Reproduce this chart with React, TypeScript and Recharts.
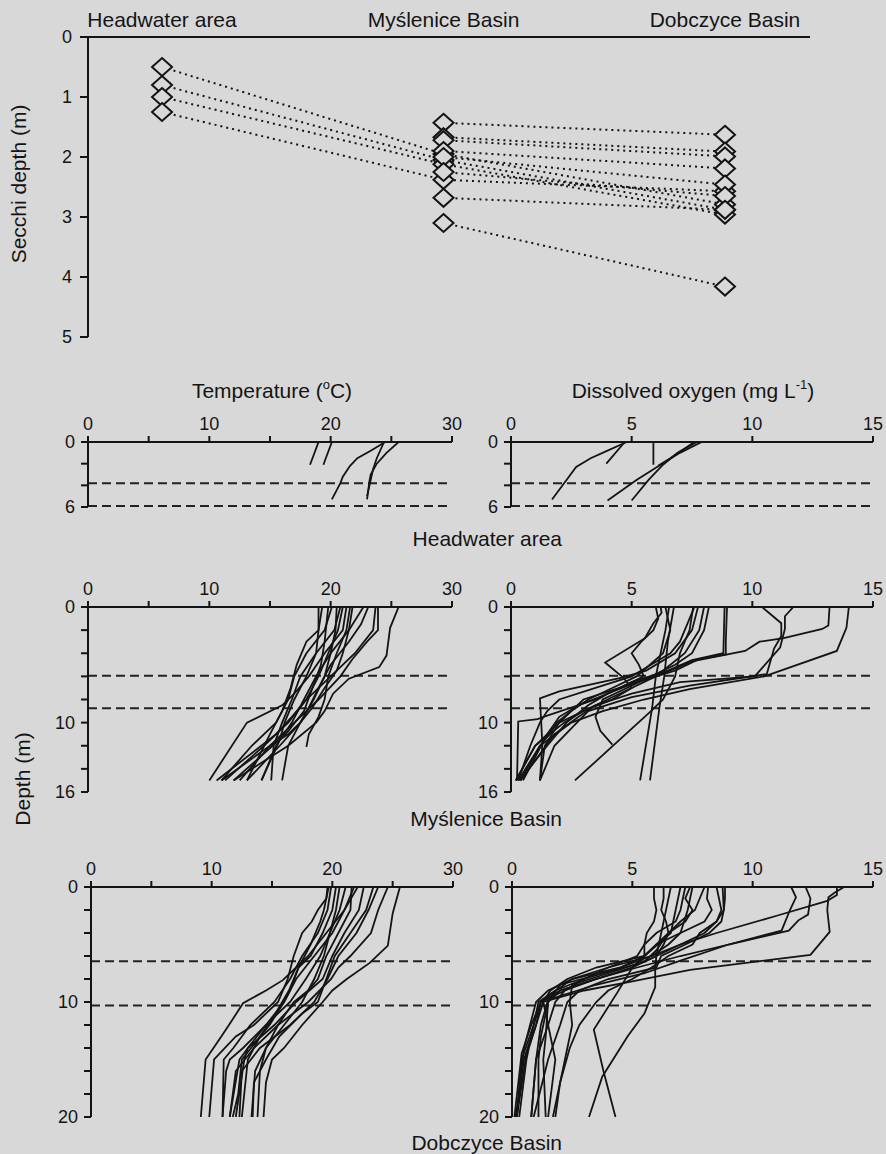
import React from 'react';
import { ScatterChart, Scatter, XAxis, YAxis, ReferenceLine } from 'recharts';

const FONT = '"Liberation Sans", Arial, Helvetica, sans-serif';
const INK = '#141414';
const BG = '#d8d8d8';

// ---------- Secchi depth (m) per sampling trip ----------
const secchiSites = ['Headwater area', 'Myślenice Basin', 'Dobczyce Basin'];
const secchiHeadwater = [0.5, 0.8, 1.0, 1.25, null, null, null, null, null, null, null, null];
const secchiMyslenice = [1.95, 2.05, 2.12, 2.38, 1.43, 1.67, 1.72, 1.9, 2.0, 2.25, 2.68, 3.1];
const secchiDobczyce = [2.79, 2.88, 2.96, 2.57, 1.63, 1.91, 1.99, 2.19, 2.46, 2.65, 2.88, 4.16];

// ---------- profiles: [depth (m), value] ----------
type Pt = [number, number];

const headwaterTemp: Pt[][] = [
  [[0, 19.0], [2.1, 18.3]],
  [[0, 20.1], [2.1, 19.4]],
  [[0, 24.5], [0.8, 23.3], [1.5, 22.2], [2.2, 21.6], [3.2, 21.0], [3.8, 20.8], [5.3, 20.1]],
  [[0, 25.6], [1, 24.6], [2, 23.8], [3, 23.3], [3.6, 23.2], [5.3, 23.0]],
  [[0, 24.4], [1.5, 23.8], [2.5, 23.5], [3.5, 23.3], [5.0, 23.0]],
];

const headwaterDO: Pt[][] = [
  [[0, 4.7], [0.3, 4.6], [2, 3.95]],
  [[0, 4.8], [0.8, 4.0], [1.5, 3.3], [2.3, 2.7], [3.2, 2.4], [5.3, 1.7]],
  [[0, 5.9], [2.1, 5.9]],
  [[0, 7.9], [1, 7.0], [2.1, 6.2], [3.5, 5.2], [5.4, 4.0]],
  [[0, 7.7], [1, 6.9], [2.1, 6.3], [3.5, 5.7], [5.4, 5.0]],
  [[0, 7.6], [1.5, 6.6], [2.2, 6.1]],
];

const mysleniceTemp: Pt[][] = [
  [[0, 25.6], [1.8, 24.9], [4.2, 24.6], [5.2, 24.0], [6.2, 21.5], [7.5, 20.2], [9, 19.5], [10, 18.8], [12, 16.5], [15, 12.0]],
  [[0, 23.9], [2, 23.9], [3, 23.0], [4.5, 21.8], [6, 20.8], [8, 19.0], [10, 17.0], [12, 15.0], [15, 11.0]],
  [[0, 23.7], [2, 23.5], [4, 22.0], [6, 20.0], [8, 18.0], [9.5, 16.8], [11, 15.5], [15, 10.6]],
  [[0, 23.1], [1.5, 22.5], [3, 21.5], [5, 20.0], [7, 19.0], [8.7, 18.2], [10, 17.5], [12, 15.8], [15, 13.1]],
  [[0, 22.7], [2, 21.5], [4, 20.0], [6, 18.8], [8, 17.8], [10, 16.8], [12, 15.5], [15, 14.3]],
  [[0, 21.6], [2, 21.3], [4, 20.5], [6, 19.8], [8, 19.5], [9.5, 19.0], [11, 18.2], [12.1, 18.0]],
  [[0, 21.3], [2, 21.0], [4, 19.5], [6, 18.2], [7.5, 17.0], [8.5, 16.0], [10, 13.1], [15, 10.0]],
  [[0, 21.0], [2, 20.6], [4, 19.8], [6, 19.0], [8, 18.0], [10, 16.5], [12, 14.5], [15, 11.3]],
  [[0, 20.8], [2, 20.3], [4, 18.8], [6, 17.5], [8, 16.8], [10, 16.0], [12, 15.3], [15, 15.1]],
  [[0, 20.5], [2, 20.4], [4, 20.0], [6, 19.5], [8, 18.6], [10, 17.5], [12, 16.5], [15, 16.0]],
  [[0, 20.1], [2, 19.5], [4, 18.0], [6, 17.0], [8, 16.5], [10, 15.5], [12, 13.5], [15, 11.0]],
  [[0, 19.8], [3, 19.5], [5, 19.2], [7, 18.5], [9, 17.8], [11, 16.3], [15, 12.0]],
  [[0, 19.3], [2, 19.0], [3, 18.0], [5, 17.2], [7, 16.7], [9, 16.0], [11, 15.0], [15, 13.1]],
  [[0, 19.0], [2, 19.0], [4, 18.8], [6, 18.0], [8, 17.0], [10, 16.2], [11.5, 15.8], [15, 14.3]],
  [[0, 21.8], [2, 21.5], [4, 21.0], [5.5, 20.5], [7, 19.5], [8.7, 18.5], [10, 17.5], [11, 16.5], [12, 15.0], [15, 12.5]],
];

const mysleniceDO: Pt[][] = [
  [[0, 14.0], [1.8, 13.9], [3.8, 13.5], [6.0, 10.5], [7.1, 7.4], [8, 5.5], [9, 3.8], [10, 2.5], [12, 1.2], [15, 0.3]],
  [[0, 13.2], [1.6, 13.15], [1.9, 12.9], [2.7, 11.3], [3.0, 10.3], [3.8, 9.7], [4.7, 7.5], [6, 6.0], [7.5, 4.5], [9, 3.0], [10, 2.2], [12, 1.0], [15, 0.2]],
  [[0, 11.7], [0.8, 11.35], [1.9, 11.35], [3.5, 11.15], [6.0, 10.1], [6.5, 7.0], [7.5, 5.0], [8.5, 3.5], [9.5, 2.8], [11, 1.8], [15, 0.4]],
  [[0, 10.4], [1.4, 11.2], [2.5, 11.2], [3.6, 10.9], [5.8, 10.6], [6.8, 7.4], [7.8, 5.0], [9, 3.2], [10.5, 2.5], [12, 1.8], [15, 1.2]],
  [[0, 8.85], [4.0, 8.8], [4.6, 7.5], [5.5, 6.5], [6.5, 5.0], [7.5, 4.0], [8.5, 3.2], [10, 2.3], [12, 1.5], [15, 0.35]],
  [[0, 6.2], [0.5, 6.24], [1.4, 5.9], [2.7, 5.55], [4.8, 3.9], [6.1, 4.65], [7, 5.0], [8, 4.2], [9, 3.0], [10, 2.0], [12, 1.0], [15, 0.2]],
  [[0, 6.55], [2, 6.4], [4, 6.2], [6, 6.0], [8.7, 5.85], [15, 5.35]],
  [[0, 6.75], [3, 6.5], [6, 6.35], [8.7, 6.15], [15, 5.76]],
  [[0, 7.55], [2, 7.4], [4, 7.0], [6, 6.8], [8, 6.3], [9, 5.8], [15, 2.65]],
  [[0, 7.75], [2, 7.5], [4, 6.8], [5.5, 5.6], [6.1, 4.6], [7.3, 2.0], [7.9, 1.2], [11.9, 1.3], [15, 1.2]],
  [[0, 8.0], [2, 7.8], [4, 7.2], [6, 6.0], [7, 4.5], [8, 3.5], [9.4, 1.5], [9.7, 1.1], [9.9, 0.3], [15, 0.25]],
  [[0, 8.2], [2, 8.0], [4, 7.5], [5, 6.8], [6, 5.8], [7, 4.8], [8, 3.8], [9.5, 3.5], [10.7, 3.7], [11.9, 4.2]],
  [[0, 8.95], [3.0, 8.9], [4.1, 8.9], [4.5, 7.8], [5.5, 6.8], [6.5, 5.2], [7.5, 4.0], [8.5, 2.8], [9.5, 2.0], [11, 1.5], [15, 0.5]],
  [[0, 7.6], [2, 7.2], [3, 7.0], [4, 6.6], [5, 5.8], [6, 5.0], [7, 3.5], [8, 2.0], [9, 1.5], [10, 1.2], [12, 0.8], [15, 0.3]],
  [[0, 6.0], [1, 6.1], [2, 5.9], [3, 5.4], [4, 5.0], [5, 5.3], [6, 5.5], [7, 4.5], [8, 3.0], [9, 2.5], [10, 2.0], [12, 1.4], [15, 1.2]],
  [[0, 6.4], [2, 6.6], [4, 6.3], [6, 5.2], [7, 4.2], [8, 3.2], [9, 2.5], [10, 1.9], [11, 1.6], [12, 1.2], [15, 0.4]],
];

const dobczyceTemp: Pt[][] = [
  [[0, 25.6], [2.3, 25.0], [5.1, 24.6], [6.6, 23.1], [8, 21.2], [9, 20.0], [10, 19.2], [12, 17.5], [14, 16.0], [15, 15.0], [17, 14.5], [20, 14.3]],
  [[0, 22.1], [2, 21.0], [4, 19.5], [6, 18.0], [7, 17.0], [8.1, 15.9], [9, 14.5], [10.1, 12.6], [11.9, 11.5], [13, 10.8], [15, 9.5], [20, 9.1]],
  [[0, 19.6], [1, 19.5], [2, 18.8], [3, 18.3], [4, 17.5], [6, 16.8], [8, 16.3], [10, 15.5], [12, 13.5], [13, 12.0], [15, 10.2], [20, 9.8]],
  [[0, 19.9], [2, 19.6], [4, 18.8], [6, 17.5], [8, 16.5], [10, 15.2], [12, 13.2], [14, 11.8], [15, 11.0], [20, 10.9]],
  [[0, 20.6], [2, 20.3], [4, 19.8], [6, 19.0], [8, 17.8], [10, 16.5], [12, 14.5], [14, 13.0], [15, 12.3], [20, 11.5]],
  [[0, 21.1], [2, 20.6], [4, 19.8], [6, 19.3], [8, 18.5], [10, 17.5], [12, 16.0], [14, 14.5], [16, 13.6], [20, 13.3]],
  [[0, 21.6], [2, 21.5], [4, 20.5], [6, 19.5], [8, 18.8], [9, 18.0], [10, 16.8], [12, 15.5], [14, 14.5], [16, 14.0], [20, 13.8]],
  [[0, 21.8], [2, 21.0], [4, 20.0], [6, 18.5], [8, 17.0], [10, 16.0], [12, 14.8], [15, 12.5], [18, 12.2], [20, 11.75]],
  [[0, 23.4], [2, 22.8], [4, 21.5], [6, 20.2], [8, 19.5], [10, 18.8], [11, 17.5], [13, 15.6], [15, 14.5], [17, 13.5], [20, 13.4]],
  [[0, 23.8], [2, 23.0], [4, 22.0], [6, 20.5], [8, 19.6], [10, 18.5], [12, 16.5], [14, 14.0], [16, 12.5], [20, 12.3]],
  [[0, 24.6], [2, 23.8], [4, 23.2], [6, 21.5], [7, 20.5], [8, 19.9], [10, 18.0], [12, 15.5], [14, 13.5], [16, 12.0], [20, 11.5]],
  [[0, 19.7], [2, 19.3], [3, 19.0], [5, 18.2], [7, 17.2], [9, 16.5], [10, 16.0], [12, 14.5], [14, 12.6], [15, 11.5], [16, 11.2], [20, 10.9]],
  [[0, 22.6], [2, 22.2], [4, 21.0], [6, 20.0], [8, 19.2], [10, 17.0], [12, 15.2], [14, 13.0], [15, 12.7], [20, 12.0]],
  [[0, 20.3], [2, 20.0], [4, 19.2], [6, 18.2], [7, 17.2], [9, 16.4], [11, 15.3], [13, 14.0], [15, 13.0], [20, 12.5]],
];

const dobczyceDO: Pt[][] = [
  [[0, 13.8], [0.5, 13.4], [0.9, 13.15], [2, 13.1], [3.9, 13.2], [5.9, 12.4], [7.2, 7.4], [8.2, 5.0], [9, 3.0], [10, 1.3], [12, 1.0], [14.5, 0.6], [20, 0.2]],
  [[0, 13.5], [0.7, 13.5], [1.2, 13.1], [2.5, 11.0], [4, 8.5], [5, 7.0], [6, 5.8], [7, 4.5], [8, 3.0], [9, 1.8], [10, 1.1], [13, 0.8], [15, 0.5], [20, 0.15]],
  [[0, 12.2], [1, 12.4], [2.4, 12.3], [2.9, 11.9], [3.8, 11.5], [5, 9.0], [6.4, 7.0], [7.5, 5.5], [8.5, 3.5], [9.8, 1.5], [12, 1.2], [15, 1.0], [20, 0.8]],
  [[0, 11.6], [0.9, 11.8], [2, 11.55], [3.8, 11.2], [5, 9.0], [6, 7.0], [7, 5.2], [8, 3.5], [9, 2.0], [10, 1.5], [13, 1.2], [15, 1.1], [20, 1.1]],
  [[0, 5.9], [1, 5.9], [2, 6.0], [3, 5.9], [4, 5.6], [5, 5.5], [6, 5.5], [7, 5.0], [8, 3.5], [9, 2.0], [10, 1.2], [12, 0.9], [15, 0.4], [20, 0.2]],
  [[0, 6.6], [2, 6.4], [4, 6.2], [6, 6.0], [7, 5.95], [8.7, 5.95], [11, 5.5], [13, 4.8], [16.5, 3.75], [20, 3.2]],
  [[0, 7.0], [2, 6.8], [4, 6.6], [6, 5.5], [7, 5.0], [9.1, 4.4], [12.4, 3.4], [16, 3.8], [20, 4.3]],
  [[0, 7.4], [1, 7.2], [2, 7.5], [3, 7.2], [4, 6.5], [5, 6.0], [6, 5.5], [7, 4.5], [8, 2.5], [9.5, 1.5], [10, 1.2], [12, 0.8], [14.5, 0.4], [20, 0.1]],
  [[0, 7.5], [2, 7.3], [4, 7.0], [5, 6.5], [6, 5.8], [7, 4.0], [8, 3.0], [9, 2.2], [10, 1.8], [12, 1.5], [15, 1.0], [20, 0.8]],
  [[0, 8.0], [1, 7.8], [2, 7.6], [3, 7.0], [4, 6.5], [5.5, 6.0], [6.5, 5.5], [7.5, 3.8], [8.5, 2.0], [10, 1.5], [13, 1.4], [15, 1.3], [20, 1.4]],
  [[0, 8.15], [1, 8.1], [2, 8.3], [3, 8.0], [4, 7.0], [5, 6.0], [6, 5.5], [7, 3.5], [8, 2.3], [9, 1.6], [10, 1.3], [12, 1.5], [15, 1.8], [20, 1.5]],
  [[0, 8.5], [2, 8.7], [3, 8.5], [4, 8.0], [5, 7.0], [6, 6.0], [6.5, 5.5], [7.5, 4.0], [8.5, 2.5], [10, 2.4], [12, 2.5], [15, 2.2], [20, 1.7]],
  [[0, 8.85], [1, 8.85], [2, 8.8], [3, 8.5], [4, 7.8], [5, 7.5], [6, 6.5], [7, 5.8], [8, 5.0], [9, 4.0], [10, 3.5], [12, 2.8], [14, 2.4], [17, 2.0], [20, 1.8]],
  [[0, 8.75], [2, 8.8], [3, 8.7], [4, 8.2], [5, 7.2], [6, 6.2], [7, 6.0], [8, 4.0], [9, 2.8], [10, 2.3], [12, 2.0], [15, 1.5], [20, 0.9]],
  [[0, 6.3], [1, 6.3], [2, 6.2], [3, 6.4], [4, 6.5], [5, 6.3], [6, 6.0], [7, 5.0], [8, 3.5], [9, 2.2], [10, 1.2], [12, 1.0], [14, 0.7], [15, 0.6], [20, 0.3]],
  [[0, 7.2], [2, 7.0], [3, 6.8], [4, 6.0], [5, 5.5], [6, 5.2], [7, 4.0], [8, 2.5], [9, 1.5], [10, 1.0], [14, 0.5], [20, 0.2]],
];

// ---------- axis ticks ----------
const tempTicks = [0, 5, 10, 15, 20, 25, 30];
const tempTickLabels = [0, 10, 20, 30];
const doTicks = [0, 5, 10, 15];
const doTickLabels = [0, 5, 10, 15];
const headwaterDepthTicks = [0, 2, 4, 6];
const headwaterDepthLabels = [0, 6];
const mysleniceDepthTicks = [0, 2, 4, 6, 8, 10, 12, 14, 16];
const mysleniceDepthLabels = [0, 10, 16];
const dobczyceDepthTicks = [0, 2, 4, 6, 8, 10, 12, 14, 16, 18, 20];
const dobczyceDepthLabels = [0, 10, 20];
const secchiTicks = [0, 1, 2, 3, 4, 5];
const headwaterMixing = [3.8, 5.9];
const mysleniceMixing = [5.95, 8.75];
const dobczyceMixing = [6.45, 10.3];

const Nothing = () => <g />;

const Diamond = (p: any) => {
  const { cx, cy } = p;
  if (cx == null || cy == null) return <g />;
  return (
    <polygon
      points={`${cx},${cy - 9} ${cx + 10},${cy} ${cx},${cy + 9} ${cx - 10},${cy}`}
      fill={BG}
      stroke={INK}
      strokeWidth={2}
    />
  );
};

const makeXTick = (labels: number[]) => (p: any) => {
  const { x, y, payload } = p;
  if (!labels.includes(payload.value)) return <g />;
  return (
    <text x={x} y={y} textAnchor="middle" fontSize={18} fontFamily={FONT} fill={INK}>
      {payload.value}
    </text>
  );
};

const makeYTick = (labels: number[]) => (p: any) => {
  const { x, y, payload } = p;
  if (!labels.includes(payload.value)) return <g />;
  return (
    <text x={x} y={y} dy="0.36em" textAnchor="end" fontSize={18} fontFamily={FONT} fill={INK}>
      {payload.value}
    </text>
  );
};

type PanelProps = {
  profiles: Pt[][];
  plotLeft: number;
  plotRight: number;
  plotTop: number;
  plotBottom: number;
  xMax: number;
  xTicks: number[];
  xLabels: number[];
  yMax: number;
  yTicks: number[];
  yLabels: number[];
  dashed: number[];
};

function ProfilePanel(props: PanelProps) {
  const { profiles, plotLeft, plotRight, plotTop, plotBottom, xMax, xTicks, xLabels, yMax, yTicks, yLabels, dashed } = props;
  const yAxisW = 48;
  const xAxisH = 34;
  const rightM = 14;
  const bottomM = 16;
  const width = plotRight - plotLeft + yAxisW + rightM;
  const height = plotBottom - plotTop + xAxisH + bottomM;
  return (
    <div style={{ position: 'absolute', left: plotLeft - yAxisW, top: plotTop - xAxisH }}>
      <ScatterChart width={width} height={height} margin={{ top: 0, right: rightM, bottom: bottomM, left: 0 }}>
        <XAxis
          type="number"
          dataKey="v"
          orientation="top"
          domain={[0, xMax]}
          ticks={xTicks}
          interval={0}
          height={xAxisH}
          allowDataOverflow
          tickSize={6}
          tickMargin={6}
          axisLine={{ stroke: INK, strokeWidth: 2 }}
          tickLine={{ stroke: INK, strokeWidth: 2 }}
          tick={makeXTick(xLabels)}
        />
        <YAxis
          type="number"
          dataKey="d"
          reversed
          domain={[0, yMax]}
          ticks={yTicks}
          interval={0}
          width={yAxisW}
          allowDataOverflow
          tickSize={7}
          tickMargin={6}
          axisLine={{ stroke: INK, strokeWidth: 2 }}
          tickLine={{ stroke: INK, strokeWidth: 2 }}
          tick={makeYTick(yLabels)}
        />
        {dashed.map((d, i) => (
          <ReferenceLine key={'r' + i} y={d} stroke="#222" strokeWidth={2} strokeDasharray="9 5" />
        ))}
        {profiles.map((prof, i) => (
          <Scatter
            key={'p' + i}
            data={prof.map(([d, v]) => ({ d, v }))}
            line={{ stroke: INK, strokeWidth: 1.8 }}
            lineType="joint"
            shape={Nothing}
            fill={INK}
            isAnimationActive={false}
          />
        ))}
      </ScatterChart>
    </div>
  );
}

function SecchiPanel() {
  const trips = secchiMyslenice.map((m, i) => {
    const pts: { x: number; y: number }[] = [];
    const h = secchiHeadwater[i];
    if (h != null) pts.push({ x: 0, y: h });
    pts.push({ x: 1, y: m });
    pts.push({ x: 2, y: secchiDobczyce[i] });
    return pts;
  });
  const siteSeries = [
    secchiHeadwater.filter((v) => v != null).map((v) => ({ x: 0, y: v as number })),
    secchiMyslenice.map((v) => ({ x: 1, y: v })),
    secchiDobczyce.map((v) => ({ x: 2, y: v })),
  ];
  const siteTick = (p: any) => {
    const { x, y, payload } = p;
    return (
      <text x={x} y={y} textAnchor="middle" fontSize={21} fontFamily={FONT} fill={INK}>
        {secchiSites[payload.value]}
      </text>
    );
  };
  return (
    <div style={{ position: 'absolute', left: 0, top: 0 }}>
      <ScatterChart width={886} height={356} margin={{ top: 0, right: 76, bottom: 19, left: 0 }}>
        <XAxis
          type="number"
          dataKey="x"
          orientation="top"
          domain={[-0.263, 2.302]}
          ticks={[0, 1, 2]}
          interval={0}
          height={37}
          allowDataOverflow
          tickLine={false}
          tickSize={0}
          tickMargin={10}
          axisLine={{ stroke: INK, strokeWidth: 2 }}
          tick={siteTick}
        />
        <YAxis
          type="number"
          dataKey="y"
          reversed
          domain={[0, 5]}
          ticks={secchiTicks}
          interval={0}
          width={88}
          allowDataOverflow
          tickSize={8}
          tickMargin={8}
          axisLine={{ stroke: INK, strokeWidth: 2 }}
          tickLine={{ stroke: INK, strokeWidth: 2 }}
          tick={makeYTick(secchiTicks)}
        />
        {trips.map((t, i) => (
          <Scatter
            key={'t' + i}
            data={t}
            line={{ stroke: INK, strokeWidth: 2, strokeDasharray: '2 4' }}
            lineType="joint"
            shape={Nothing}
            fill={INK}
            isAnimationActive={false}
          />
        ))}
        {siteSeries.map((s, i) => (
          <Scatter key={'s' + i} data={s} shape={Diamond} fill={INK} isAnimationActive={false} />
        ))}
      </ScatterChart>
    </div>
  );
}

export default function App() {
  const txt = { fontFamily: FONT, fill: INK } as const;
  return (
    <div style={{ position: 'absolute', left: 0, top: 0, width: 886, height: 1154, background: BG, overflow: 'hidden' }}>
      <svg width={886} height={1154} style={{ position: 'absolute', left: 0, top: 0 }}>
        <text {...txt} fontSize={21} textAnchor="middle" transform="translate(26,184) rotate(-90)">
          Secchi depth (m)
        </text>
        <text {...txt} fontSize={21} textAnchor="middle" transform="translate(30,779) rotate(-90)">
          Depth (m)
        </text>
        <text {...txt} fontSize={21} textAnchor="middle" x={272} y={398}>
          Temperature (<tspan fontSize={13} dy={-9}>o</tspan>
          <tspan dy={9}>C)</tspan>
        </text>
        <text {...txt} fontSize={21} textAnchor="middle" x={693} y={398}>
          Dissolved oxygen (mg L<tspan fontSize={13} dy={-9}>-1</tspan>
          <tspan dy={9}>)</tspan>
        </text>
        <text {...txt} fontSize={21} textAnchor="end" x={562} y={546}>
          Headwater area
        </text>
        <text {...txt} fontSize={21} textAnchor="end" x={562} y={826}>
          Myślenice Basin
        </text>
        <text {...txt} fontSize={21} textAnchor="end" x={562} y={1150}>
          Dobczyce Basin
        </text>
      </svg>
      <SecchiPanel />
      <ProfilePanel profiles={headwaterTemp} plotLeft={88} plotRight={452} plotTop={442} plotBottom={507}
        xMax={30} xTicks={tempTicks} xLabels={tempTickLabels} yMax={6} yTicks={headwaterDepthTicks}
        yLabels={headwaterDepthLabels} dashed={headwaterMixing} />
      <ProfilePanel profiles={headwaterDO} plotLeft={511} plotRight={873} plotTop={442} plotBottom={507}
        xMax={15} xTicks={doTicks} xLabels={doTickLabels} yMax={6} yTicks={headwaterDepthTicks}
        yLabels={headwaterDepthLabels} dashed={headwaterMixing} />
      <ProfilePanel profiles={mysleniceTemp} plotLeft={88} plotRight={452} plotTop={607} plotBottom={792}
        xMax={30} xTicks={tempTicks} xLabels={tempTickLabels} yMax={16} yTicks={mysleniceDepthTicks}
        yLabels={mysleniceDepthLabels} dashed={mysleniceMixing} />
      <ProfilePanel profiles={mysleniceDO} plotLeft={511} plotRight={873} plotTop={607} plotBottom={792}
        xMax={15} xTicks={doTicks} xLabels={doTickLabels} yMax={16} yTicks={mysleniceDepthTicks}
        yLabels={mysleniceDepthLabels} dashed={mysleniceMixing} />
      <ProfilePanel profiles={dobczyceTemp} plotLeft={91} plotRight={453} plotTop={887} plotBottom={1117}
        xMax={30} xTicks={tempTicks} xLabels={tempTickLabels} yMax={20} yTicks={dobczyceDepthTicks}
        yLabels={dobczyceDepthLabels} dashed={dobczyceMixing} />
      <ProfilePanel profiles={dobczyceDO} plotLeft={512} plotRight={873} plotTop={887} plotBottom={1117}
        xMax={15} xTicks={doTicks} xLabels={doTickLabels} yMax={20} yTicks={dobczyceDepthTicks}
        yLabels={dobczyceDepthLabels} dashed={dobczyceMixing} />
    </div>
  );
}
